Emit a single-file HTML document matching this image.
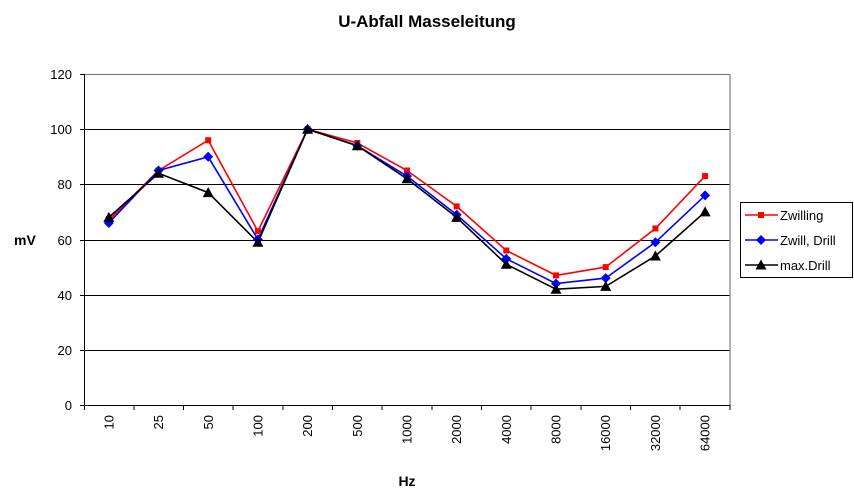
<!DOCTYPE html>
<html><head><meta charset="utf-8"><style>
html,body{margin:0;padding:0;background:#fff;}
svg{display:block;font-family:"Liberation Sans",Arial,sans-serif;}
</style></head><body>
<svg width="854" height="496" viewBox="0 0 854 496" xmlns="http://www.w3.org/2000/svg">
<defs>
<rect id="sq" x="-3" y="-3" width="6" height="6" fill="#ff0000"/>
<polygon id="dm" points="0,-5 5,0 0,5 -5,0" fill="#0000ff"/>
<polygon id="tr" points="0,-5.5 5.5,4.5 -5.5,4.5" fill="#000"/>
</defs>
<text x="427" y="27" font-size="17" font-weight="bold" text-anchor="middle">U-Abfall Masseleitung</text>
<!-- grid -->
<g stroke="#000" stroke-width="1">
<line x1="84" y1="129.5" x2="730" y2="129.5"/>
<line x1="84" y1="184.5" x2="730" y2="184.5"/>
<line x1="84" y1="240.5" x2="730" y2="240.5"/>
<line x1="84" y1="295.5" x2="730" y2="295.5"/>
<line x1="84" y1="350.5" x2="730" y2="350.5"/>
</g>
<g stroke="#808080" stroke-width="1.2" fill="none">
<line x1="84" y1="74.5" x2="730" y2="74.5"/>
<line x1="730" y1="74" x2="730" y2="405"/>
</g>
<g stroke="#000" stroke-width="1">
<line x1="84.5" y1="74" x2="84.5" y2="405"/>
<line x1="84" y1="405.5" x2="730" y2="405.5"/>
<line x1="80" y1="74.5" x2="84" y2="74.5"/>
<line x1="80" y1="129.5" x2="84" y2="129.5"/>
<line x1="80" y1="184.5" x2="84" y2="184.5"/>
<line x1="80" y1="240.5" x2="84" y2="240.5"/>
<line x1="80" y1="295.5" x2="84" y2="295.5"/>
<line x1="80" y1="350.5" x2="84" y2="350.5"/>
<line x1="80" y1="405.5" x2="84" y2="405.5"/>
<line x1="84.5" y1="405" x2="84.5" y2="410"/>
<line x1="134" y1="405" x2="134" y2="410"/>
<line x1="183.5" y1="405" x2="183.5" y2="410"/>
<line x1="233" y1="405" x2="233" y2="410"/>
<line x1="283" y1="405" x2="283" y2="410"/>
<line x1="332.5" y1="405" x2="332.5" y2="410"/>
<line x1="382" y1="405" x2="382" y2="410"/>
<line x1="432" y1="405" x2="432" y2="410"/>
<line x1="481.5" y1="405" x2="481.5" y2="410"/>
<line x1="531" y1="405" x2="531" y2="410"/>
<line x1="581" y1="405" x2="581" y2="410"/>
<line x1="630.5" y1="405" x2="630.5" y2="410"/>
<line x1="680" y1="405" x2="680" y2="410"/>
<line x1="730" y1="405" x2="730" y2="410"/>
</g>
<g font-size="13" text-anchor="end">
<text x="72" y="79">120</text>
<text x="72" y="134">100</text>
<text x="72" y="189">80</text>
<text x="72" y="245">60</text>
<text x="72" y="300">40</text>
<text x="72" y="355">20</text>
<text x="72" y="410">0</text>
</g>
<g font-size="13" text-anchor="end">
<text transform="translate(113.5,415) rotate(-90)">10</text>
<text transform="translate(163,415) rotate(-90)">25</text>
<text transform="translate(213,415) rotate(-90)">50</text>
<text transform="translate(262.5,415) rotate(-90)">100</text>
<text transform="translate(312,415) rotate(-90)">200</text>
<text transform="translate(362,415) rotate(-90)">500</text>
<text transform="translate(411.5,415) rotate(-90)">1000</text>
<text transform="translate(461,415) rotate(-90)">2000</text>
<text transform="translate(511,415) rotate(-90)">4000</text>
<text transform="translate(560.5,415) rotate(-90)">8000</text>
<text transform="translate(610,415) rotate(-90)">16000</text>
<text transform="translate(660,415) rotate(-90)">32000</text>
<text transform="translate(709.5,415) rotate(-90)">64000</text>
</g>
<text x="407" y="486" font-size="14" font-weight="bold" text-anchor="middle">Hz</text>
<text x="14" y="245" font-size="14" font-weight="bold">mV</text>
<!-- series -->
<polyline fill="none" stroke="#ff0000" stroke-width="1.6" points="108.8,220.2 158.5,170.5 208.2,140.2 257.9,231.2 307.6,129.2 357.3,143 407,170.5 456.7,206.4 506.3,250.5 556,275.4 605.7,267.1 655.4,228.5 705.1,176.1"/>
<polyline fill="none" stroke="#0000ff" stroke-width="1.6" points="108.8,223 158.5,170.5 208.2,156.8 257.9,239.5 307.6,129.2 357.3,145.7 407,176.1 456.7,214.7 506.3,258.8 556,283.6 605.7,278.1 655.4,242.3 705.1,195.4"/>
<polyline fill="none" stroke="#000" stroke-width="1.6" points="108.8,217.4 158.5,173.3 208.2,192.6 257.9,242.3 307.6,129.2 357.3,145.7 407,178.8 456.7,217.4 506.3,264.3 556,289.2 605.7,286.4 655.4,256 705.1,211.9"/>
<g>
<use href="#sq" x="108.8" y="220.2"/><use href="#sq" x="158.5" y="170.5"/><use href="#sq" x="208.2" y="140.2"/><use href="#sq" x="257.9" y="231.2"/><use href="#sq" x="307.6" y="129.2"/><use href="#sq" x="357.3" y="143"/><use href="#sq" x="407" y="170.5"/><use href="#sq" x="456.7" y="206.4"/><use href="#sq" x="506.3" y="250.5"/><use href="#sq" x="556" y="275.4"/><use href="#sq" x="605.7" y="267.1"/><use href="#sq" x="655.4" y="228.5"/><use href="#sq" x="705.1" y="176.1"/>
<use href="#dm" x="108.8" y="223"/><use href="#dm" x="158.5" y="170.5"/><use href="#dm" x="208.2" y="156.8"/><use href="#dm" x="257.9" y="239.5"/><use href="#dm" x="307.6" y="129.2"/><use href="#dm" x="357.3" y="145.7"/><use href="#dm" x="407" y="176.1"/><use href="#dm" x="456.7" y="214.7"/><use href="#dm" x="506.3" y="258.8"/><use href="#dm" x="556" y="283.6"/><use href="#dm" x="605.7" y="278.1"/><use href="#dm" x="655.4" y="242.3"/><use href="#dm" x="705.1" y="195.4"/>
<use href="#tr" x="108.8" y="217.4"/><use href="#tr" x="158.5" y="173.3"/><use href="#tr" x="208.2" y="192.6"/><use href="#tr" x="257.9" y="242.3"/><use href="#tr" x="307.6" y="129.2"/><use href="#tr" x="357.3" y="145.7"/><use href="#tr" x="407" y="178.8"/><use href="#tr" x="456.7" y="217.4"/><use href="#tr" x="506.3" y="264.3"/><use href="#tr" x="556" y="289.2"/><use href="#tr" x="605.7" y="286.4"/><use href="#tr" x="655.4" y="256"/><use href="#tr" x="705.1" y="211.9"/>
</g>
<!-- legend -->
<rect x="740.5" y="202.5" width="112" height="75" fill="#fff" stroke="#000" stroke-width="1"/>
<g stroke-width="1.6">
<line x1="745" y1="215" x2="778" y2="215" stroke="#ff0000"/>
<line x1="745" y1="240" x2="778" y2="240" stroke="#0000ff"/>
<line x1="745" y1="265" x2="778" y2="265" stroke="#000"/>
</g>
<use href="#sq" x="761" y="215"/>
<use href="#dm" x="761" y="240"/>
<use href="#tr" x="761" y="265"/>
<g font-size="13">
<text x="780" y="220">Zwilling</text>
<text x="780" y="245">Zwill, Drill</text>
<text x="780" y="270">max.Drill</text>
</g>
</svg>
</body></html>
